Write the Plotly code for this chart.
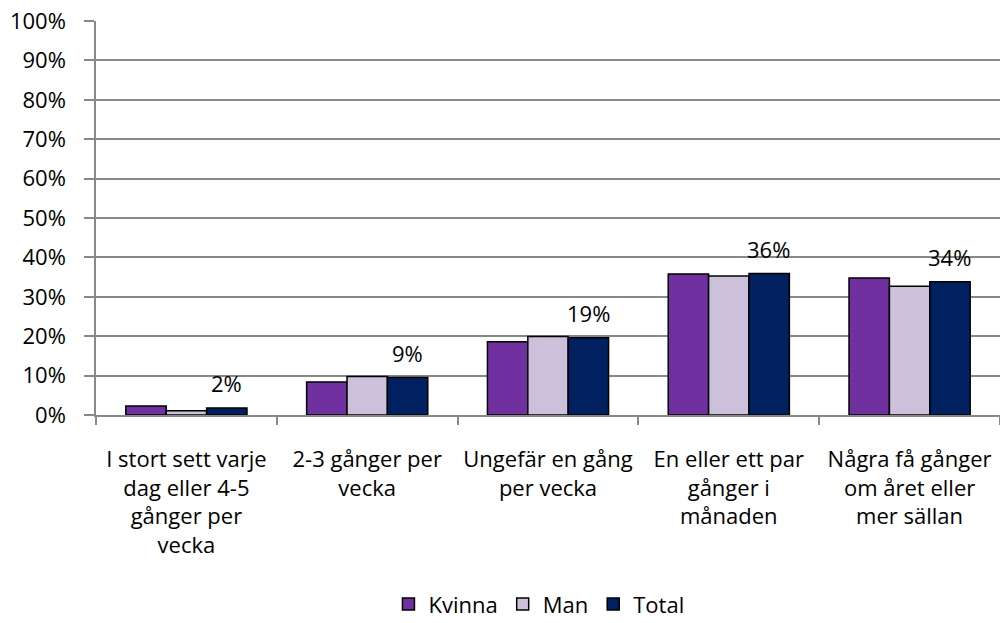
import plotly.graph_objects as go

categories = [
    "I stort sett varje<br>dag eller 4-5<br>gånger per<br>vecka",
    "2-3 gånger per<br>vecka",
    "Ungefär en gång<br>per vecka",
    "En eller ett par<br>gånger i<br>månaden",
    "Några få gånger<br>om året eller<br>mer sällan",
]
kvinna = [2.3, 8.4, 18.6, 35.8, 34.8]
man = [1.1, 9.8, 19.9, 35.3, 32.7]
total = [1.8, 9.5, 19.6, 35.9, 33.8]
total_labels = ["2%", "9%", "19%", "36%", "34%"]

FONT = "Open Sans"
FS = 22
fig = go.Figure()
for name, vals, col in [("Kvinna", kvinna, "#7030A0"), ("Man", man, "#CCC0DA"), ("Total", total, "#002060")]:
    fig.add_trace(go.Bar(name=name, x=categories, y=vals, marker=dict(color=col, line=dict(color="black", width=1.5))))

for c, v, t in zip(categories, total, total_labels):
    fig.add_annotation(x=c, y=v, text=t, showarrow=False, xshift=40, yshift=25,
                       font=dict(family=FONT, size=FS, color="black"))

fig.update_layout(
    width=1000, height=623,
    margin=dict(l=96, r=0, t=21, b=208, autoexpand=False),
    paper_bgcolor="white", plot_bgcolor="white",
    barmode="group", bargap=0.33, bargroupgap=0,
    font=dict(family=FONT, size=FS, color="black"),
    showlegend=True,
    legend=dict(orientation="h", x=0.49, xanchor="center", y=-0.48, yanchor="middle",
                font=dict(family=FONT, size=FS), itemwidth=30, traceorder="normal"),
    xaxis=dict(showline=True, linecolor="#888888", linewidth=1.5, ticks="outside", tickson="boundaries",
               ticklen=8, tickcolor="#888888", tickwidth=1.5, tickangle=0, ticklabelstandoff=24,
               automargin=False),
    yaxis=dict(range=[0, 100], dtick=10, ticksuffix="%", showgrid=True, gridcolor="#888888", gridwidth=1.5,
               showline=True, linecolor="#888888", linewidth=1.5, ticks="outside", ticklen=10,
               tickcolor="#888888", tickwidth=1.5, ticklabelstandoff=14, zeroline=False, automargin=False),
)
fig.write_html("out.html", config={"displayModeBar": False},
               post_script="document.body.style.margin='0';document.body.style.overflow='hidden';")
